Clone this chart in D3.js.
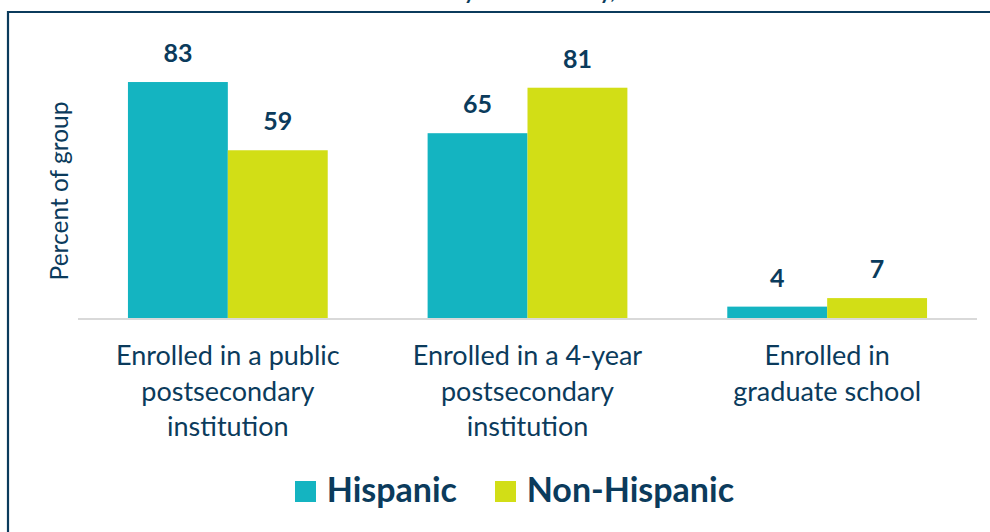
<!DOCTYPE html>
<html>
<head>
<meta charset="utf-8">
<script src="https://cdn.jsdelivr.net/npm/d3@7"></script>
<style>
  html, body { margin: 0; padding: 0; background: #ffffff; }
  svg { display: block; font-family: Lato, "Open Sans", sans-serif; }
</style>
</head>
<body>
<svg id="chart" width="990" height="532"></svg>
<script>
// Enrollment shares (percent of group)
const categories = [
  ["Enrolled in a public", "postsecondary", "institution"],
  ["Enrolled in a 4-year", "postsecondary", "institution"],
  ["Enrolled in", "graduate school"]
];
const series = ["Hispanic", "Non-Hispanic"];
const hispanicValues = [83, 65, 4];
const nonHispanicValues = [59, 81, 7];
const seriesColors = ["#14b4c1", "#d2de16"];
const yAxisTitle = "Percent of group";
const titleText = "Enrollment of students by their ethnicity,";

const navy = "#0b3b5c";
const svg = d3.select("#chart");

const catKeys = categories.map((c, i) => i);
const valuesBySeries = [hispanicValues, nonHispanicValues];

const x0 = d3.scaleBand().domain(catKeys).range([78, 977]).paddingInner(0).paddingOuter(0);
const x1 = d3.scaleBand().domain(series).range([0, x0.bandwidth()]).paddingInner(0).paddingOuter(0.5);
const y = d3.scaleLinear().domain([0, 100]).range([318, 33.7]);
const color = d3.scaleOrdinal().domain(series).range(seriesColors);

// Title: sits above the frame, only its lowest strokes reach into view
const title = svg.append("text")
  .attr("x", 0).attr("y", -1.5)
  .attr("font-weight", 700)
  .attr("font-size", 30)
  .attr("fill", navy)
  .text(titleText);
{
  const node = title.node();
  const iFirst = titleText.indexOf("by") + 1;
  const iSecond = titleText.lastIndexOf("y");
  const p1 = node.getStartPositionOfChar(iFirst).x;
  const p2 = node.getStartPositionOfChar(iSecond).x;
  const size = 30 * 136 / (p2 - p1);
  title.attr("font-size", size);
  const q1 = node.getStartPositionOfChar(iFirst).x;
  title.attr("x", 464 - q1);
}

// Frame
svg.append("line").attr("x1", 7).attr("x2", 992).attr("y1", 12).attr("y2", 12)
  .attr("stroke", navy).attr("stroke-width", 2.2);
svg.append("line").attr("x1", 8).attr("x2", 8).attr("y1", 11).attr("y2", 540)
  .attr("stroke", navy).attr("stroke-width", 2.2);

// Bars
const groups = svg.append("g").selectAll("g")
  .data(catKeys).join("g")
  .attr("transform", d => `translate(${x0(d)},0)`);

const barData = ci => series.map((s, si) => ({ s, v: valuesBySeries[si][ci] }));

groups.selectAll("rect")
  .data(ci => barData(ci)).join("rect")
  .attr("x", d => x1(d.s))
  .attr("width", x1.bandwidth())
  .attr("y", d => y(d.v))
  .attr("height", d => y(0) - y(d.v))
  .attr("fill", d => color(d.s));

groups.selectAll("text.value")
  .data(ci => barData(ci)).join("text")
  .attr("class", "value")
  .attr("x", d => x1(d.s) + x1.bandwidth() / 2)
  .attr("y", d => y(d.v) - 20)
  .attr("text-anchor", "middle")
  .attr("font-weight", 700)
  .attr("font-size", 25)
  .attr("fill", navy)
  .text(d => d.v);

// Baseline
svg.append("line")
  .attr("x1", x0.range()[0]).attr("x2", x0.range()[1])
  .attr("y1", y(0) + 1).attr("y2", y(0) + 1)
  .attr("stroke", "#d9d9d9").attr("stroke-width", 2);

// Category labels
const xAxis = svg.append("g");
catKeys.forEach(ci => {
  const t = xAxis.append("text")
    .attr("x", x0(ci) + x0.bandwidth() / 2)
    .attr("y", 365)
    .attr("text-anchor", "middle")
    .attr("font-size", 27)
    .attr("fill", navy);
  categories[ci].forEach((line, li) => {
    t.append("tspan")
      .attr("x", x0(ci) + x0.bandwidth() / 2)
      .attr("dy", li === 0 ? 0 : 35.5)
      .text(line);
  });
});

// Y axis title
svg.append("text")
  .attr("transform", "translate(67.7,191) rotate(-90)")
  .attr("text-anchor", "middle")
  .attr("font-size", 24.5)
  .attr("fill", navy)
  .text(yAxisTitle);

// Legend
const legendX = [295, 495];
const legend = svg.append("g").selectAll("g")
  .data(series).join("g")
  .attr("transform", (d, i) => `translate(${legendX[i]},481)`);
legend.append("rect")
  .attr("width", 21).attr("height", 21)
  .attr("fill", d => color(d));
legend.append("text")
  .attr("x", 31.7).attr("y", 20.7)
  .attr("font-weight", 700)
  .attr("font-size", 34)
  .attr("fill", navy)
  .text(d => d);
</script>
</body>
</html>
